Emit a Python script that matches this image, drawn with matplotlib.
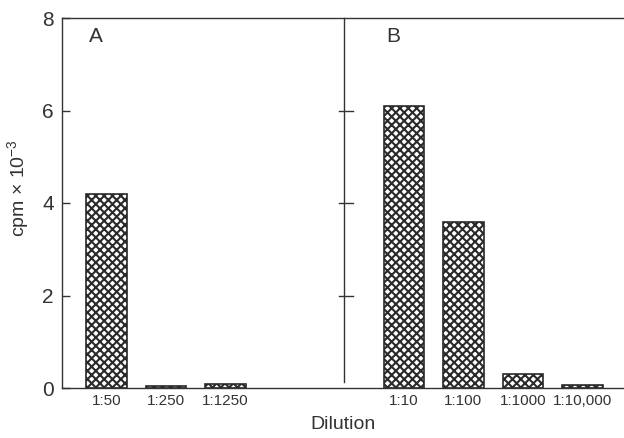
import matplotlib
matplotlib.use("Agg")
import matplotlib.pyplot as plt

plt.rcParams['font.family'] = ['Liberation Sans', 'DejaVu Sans']
plt.rcParams['mathtext.default'] = 'regular'
plt.rcParams['hatch.linewidth'] = 1.5
plt.rcParams['hatch.color'] = '#2a2a2a'

# Data
cats_a = ["1:50", "1:250", "1:1250"]
vals_a = [4.2, 0.05, 0.08]
cats_b = ["1:10", "1:100", "1:1000", "1:10,000"]
vals_b = [6.1, 3.6, 0.3, 0.07]
yticks = [0, 2, 4, 6, 8]

ink = '#333333'
fig = plt.figure(figsize=(6.24, 4.38), dpi=100)
ax = fig.add_axes([62/624, 1-388/438, (624-62)/624, (388-18)/438])

pos_a = list(range(len(cats_a)))
pos_b = [5 + i for i in range(len(cats_b))]
ax.bar(pos_a, vals_a, width=0.68, facecolor='white', edgecolor='#2a2a2a',
       hatch='xxxx', linewidth=1.2)
ax.bar(pos_b, vals_b, width=0.68, facecolor='white', edgecolor='#2a2a2a',
       hatch='xxxx', linewidth=1.2)

ax.set_xlim(-0.75, 8.7)
ax.set_ylim(0, 8)
ax.set_xticks(pos_a + pos_b)
ax.set_xticklabels(cats_a + cats_b, fontsize=11, color=ink)
ax.tick_params(axis='x', length=0, pad=4)
ax.set_yticks(yticks)
ax.set_yticklabels([str(v) for v in yticks], fontsize=15, color=ink)
ax.tick_params(axis='y', direction='in', length=6, width=1.0, color=ink, pad=6)

for s in ['left', 'top', 'bottom']:
    ax.spines[s].set_color(ink)
    ax.spines[s].set_linewidth(1.0)
ax.spines['right'].set_visible(False)

# divider between panels
ax.plot([4, 4], [0.12, 8], color=ink, lw=1.0, clip_on=False)
for t in yticks[1:-1]:
    ax.plot([3.9, 4.15], [t, t], color=ink, lw=1.0)

ax.text(-0.18, 7.6, "A", fontsize=15, color=ink, ha='center', va='center')
ax.text(4.82, 7.6, "B", fontsize=15, color=ink, ha='center', va='center')

ax.set_xlabel("Dilution", fontsize=14, color=ink, labelpad=6)
ax.set_ylabel("cpm $\\times$ 10$^{\u22123}$", fontsize=14, color=ink)
ax.yaxis.set_label_coords(-0.055, 0.54)

fig.savefig("out.png", dpi=100)
